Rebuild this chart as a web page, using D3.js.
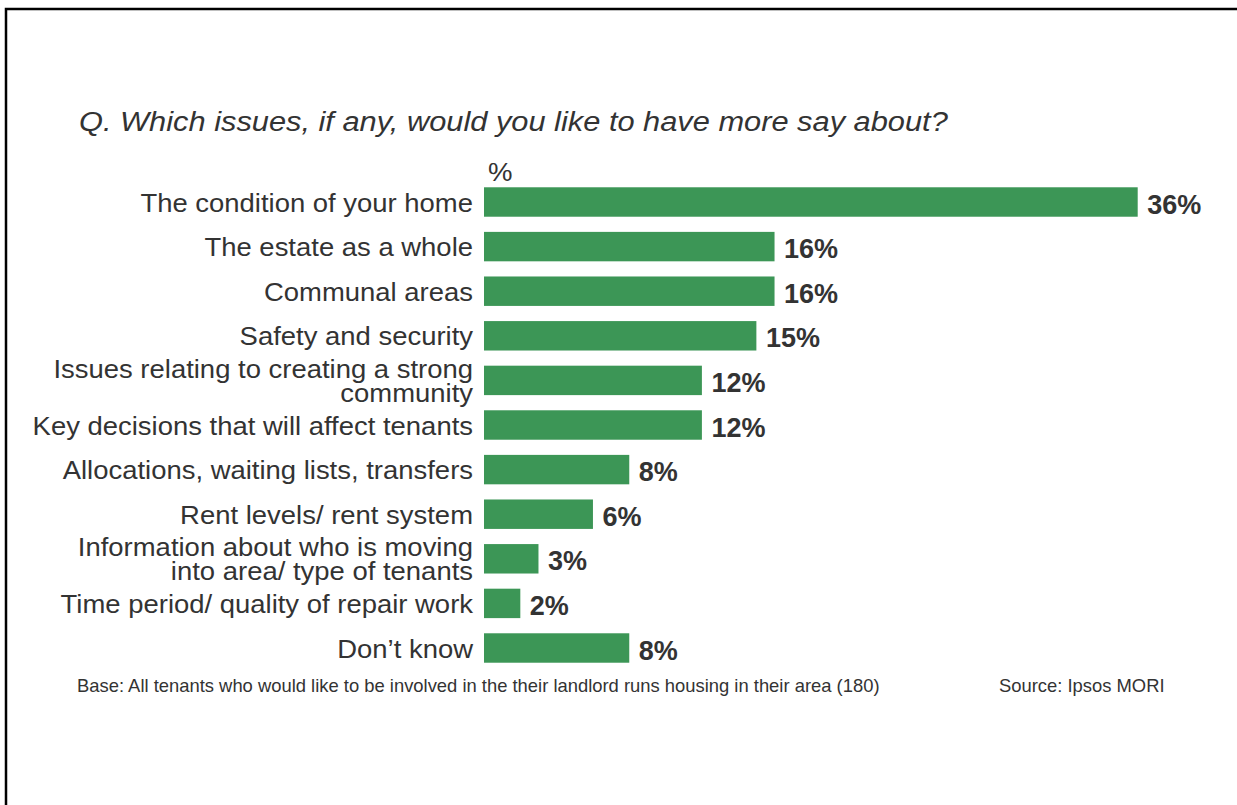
<!DOCTYPE html>
<html>
<head>
<meta charset="utf-8">
<script src="https://cdn.jsdelivr.net/npm/d3@7"></script>
<style>
  html, body { margin: 0; padding: 0; background: #fff; }
  svg { display: block; }
  text { font-family: "Liberation Sans", Arial, Helvetica, sans-serif; fill: #333; }
</style>
</head>
<body>
<svg id="chart" width="1237" height="805"></svg>
<script>
// ---- data ----
const categories = [
  "The condition of your home",
  "The estate as a whole",
  "Communal areas",
  "Safety and security",
  "Issues relating to creating a strong\ncommunity",
  "Key decisions that will affect tenants",
  "Allocations, waiting lists, transfers",
  "Rent levels/ rent system",
  "Information about who is moving\ninto area/ type of tenants",
  "Time period/ quality of repair work",
  "Don\u2019t know"
];
const values = [36, 16, 16, 15, 12, 12, 8, 6, 3, 2, 8];
const titleText = "Q. Which issues, if any, would you like to have more say about?";
const unitLabel = "%";
const baseNote = "Base: All tenants who would like to be involved in the their landlord runs housing in their area (180)";
const sourceNote = "Source: Ipsos MORI";

// ---- layout ----
const svg = d3.select("#chart");
const barColor = "#3C9656";

svg.append("rect")
  .attr("x", 6).attr("y", 9)
  .attr("width", 1400).attr("height", 1000)
  .attr("fill", "none").attr("stroke", "#000").attr("stroke-width", 2.5);

const x = d3.scaleLinear().domain([0, 36]).range([484, 1137.7]);
const y = d3.scaleBand().domain(categories).range([179.7, 670.3])
  .paddingInner(0.34).paddingOuter(0.17);

// title
svg.append("text")
  .attr("transform", "translate(79,131) scale(1.10,1)")
  .attr("font-size", 28).attr("font-style", "italic")
  .text(titleText);

// unit
svg.append("text")
  .attr("transform", "translate(488,181) scale(1.08,1)")
  .attr("font-size", 25.5)
  .text(unitLabel);

// bars
svg.selectAll("rect.bar").data(categories).join("rect")
  .attr("class", "bar")
  .attr("x", x(0))
  .attr("y", d => y(d))
  .attr("width", (d, i) => x(values[i]) - x(0))
  .attr("height", y.bandwidth())
  .attr("fill", barColor);

// category labels (multi-line labels as one text with tspans)
const labelX = 473;
const lab = svg.selectAll("g.lab").data(categories).join("g")
  .attr("class", "lab")
  .attr("transform", d => `translate(${labelX},${y(d) + y.bandwidth() / 2})`);
lab.each(function(d) {
  const lines = d.split("\n");
  const lh = 24;
  const first = lines.length === 1 ? 9.5 : -2.5;
  const t = d3.select(this).append("text")
    .attr("transform", `translate(0,${first}) scale(1.077,1)`)
    .attr("text-anchor", "end")
    .attr("font-size", 25.5);
  lines.forEach((ln, k) => {
    t.append("tspan").attr("x", 0).attr("dy", k === 0 ? 0 : lh).text(ln);
  });
});

// value labels
svg.selectAll("text.val").data(categories).join("text")
  .attr("class", "val")
  .attr("x", (d, i) => x(values[i]) + 9.5)
  .attr("y", d => y(d) + y.bandwidth() / 2 + 11.5)
  .attr("font-size", 27).attr("font-weight", "bold")
  .text((d, i) => values[i] + "%");

// footnotes
svg.append("text")
  .attr("x", 77).attr("y", 692)
  .attr("font-size", 18.4)
  .text(baseNote);
svg.append("text")
  .attr("x", 999).attr("y", 692)
  .attr("font-size", 18.4)
  .text(sourceNote);
</script>
</body>
</html>
